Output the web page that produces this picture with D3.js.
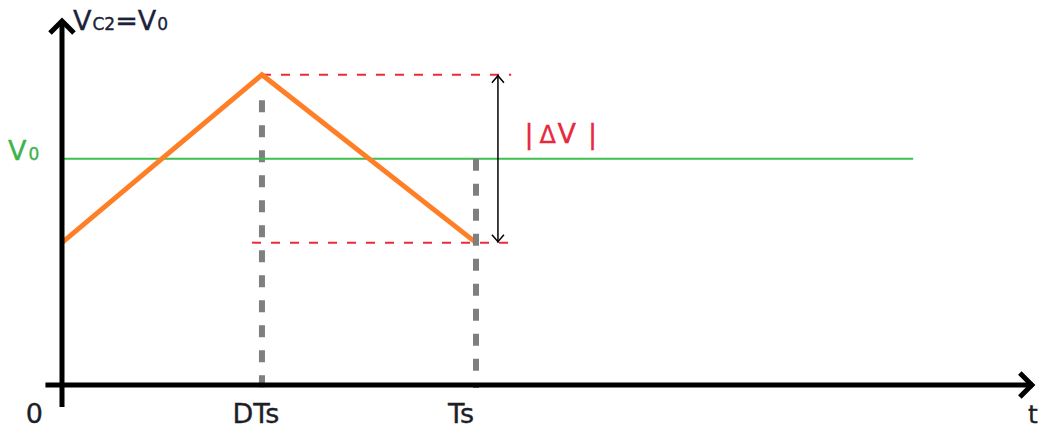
<!DOCTYPE html>
<html>
<head>
<meta charset="utf-8">
<script src="https://cdn.jsdelivr.net/npm/d3@7"></script>
<style>
  html, body { margin: 0; padding: 0; background: #fff; }
  svg { display: block; }
  text { font-family: "DejaVu Sans", Verdana, sans-serif; stroke-width: 0.35; }
</style>
</head>
<body>
<svg id="chart" width="1041" height="430"></svg>
<script>
// Capacitor C2 voltage ripple over one switching period
const duty = 0.483;                 // DTs as a fraction of Ts
const rippleTimes = [0, duty, 1];   // t / Ts
const rippleValues = [0.39, 0.85, 0.39];
const averageValue = 0.62;          // V0
const tickTimes = [0, duty, 1];
const tickLabels = ["0", "DTs", "Ts"];

const svg = d3.select("#chart");

// t / Ts -> px ; v (normalised) -> px
const x = d3.scaleLinear().domain([0, 1]).range([62, 476]);
const y = d3.scaleLinear().domain([0, 1]).range([385, 20]);

const vMin = d3.min(rippleValues), vMax = d3.max(rippleValues);

// grey dashed guide at DTs
svg.append("line")
  .attr("x1", x(duty)).attr("x2", x(duty))
  .attr("y1", y(0.78)).attr("y2", y(-0.008))
  .attr("stroke", "#7f7f7f").attr("stroke-width", 6)
  .attr("stroke-dasharray", "12,13");

// average level V0
svg.append("line")
  .attr("x1", x(0)).attr("x2", x(2.056))
  .attr("y1", y(averageValue)).attr("y2", y(averageValue))
  .attr("stroke", "#3cbf4c").attr("stroke-width", 2);

// red dashed extents of the ripple
const extents = [
  { v: vMax, t0: duty, t1: 1.085 },
  { v: vMin, t0: 0.459, t1: 1.085 }
];
svg.selectAll("line.extent").data(extents).join("line")
  .attr("class", "extent")
  .attr("x1", d => x(d.t0)).attr("x2", d => x(d.t1))
  .attr("y1", d => y(d.v)).attr("y2", d => y(d.v))
  .attr("stroke", "#ec2a3a").attr("stroke-width", 2)
  .attr("stroke-dasharray", "9,10");

// ripple waveform
const line = d3.line().x((d, i) => x(rippleTimes[i])).y(d => y(d));
svg.append("path")
  .datum(rippleValues)
  .attr("d", line)
  .attr("fill", "none")
  .attr("stroke", "#ff7f27")
  .attr("stroke-width", 5)
  .attr("stroke-linejoin", "miter");

// grey dashed guide at Ts, over the end of the falling edge
svg.append("line")
  .attr("x1", x(1)).attr("x2", x(1))
  .attr("y1", y(averageValue)).attr("y2", y(-0.008))
  .attr("stroke", "#7f7f7f").attr("stroke-width", 6)
  .attr("stroke-dasharray", "12,13");

// double-headed |ΔV| arrow
const ax = x(1.053);
const yTop = y(vMax), yBot = y(vMin);
svg.append("line")
  .attr("x1", ax).attr("x2", ax).attr("y1", yTop).attr("y2", yBot)
  .attr("stroke", "#000").attr("stroke-width", 1.5);
svg.append("path")
  .attr("d", `M${ax - 6},${yTop + 8}L${ax},${yTop + 1}L${ax + 6},${yTop + 8}` +
             `M${ax - 6},${yBot - 8}L${ax},${yBot - 1}L${ax + 6},${yBot - 8}`)
  .attr("fill", "none").attr("stroke", "#000").attr("stroke-width", 1.5);

// axes with open arrowheads
const axisColor = "#000";
svg.append("line")
  .attr("x1", x(0)).attr("x2", x(0)).attr("y1", y(-0.06)).attr("y2", y(1) + 1)
  .attr("stroke", axisColor).attr("stroke-width", 5);
svg.append("line")
  .attr("x1", x(-0.04)).attr("x2", x(2.345)).attr("y1", y(0)).attr("y2", y(0))
  .attr("stroke", axisColor).attr("stroke-width", 5);
svg.append("path")
  .attr("d", `M${x(0) - 12},${y(1) + 13}L${x(0)},${y(1) + 1}L${x(0) + 12},${y(1) + 13}`)
  .attr("fill", "none").attr("stroke", axisColor).attr("stroke-width", 5);
svg.append("path")
  .attr("d", `M${x(2.345) - 13},${y(0) - 12}L${x(2.345) - 1},${y(0)}L${x(2.345) - 13},${y(0) + 12}`)
  .attr("fill", "none").attr("stroke", axisColor).attr("stroke-width", 5);

// time tick labels
const labelOffsets = [-19, -6, -15];
const labelAnchors = ["end", "middle", "middle"];
svg.selectAll("text.tick").data(tickLabels).join("text")
  .attr("class", "tick")
  .attr("x", (d, i) => x(tickTimes[i]) + labelOffsets[i])
  .attr("y", 423)
  .attr("text-anchor", (d, i) => labelAnchors[i])
  .attr("font-size", 27)
  .attr("fill", "#1e1e28").attr("stroke", "#1e1e28")
  .text(d => d);

svg.append("text")
  .attr("x", 1028).attr("y", 423)
  .attr("font-size", 25)
  .attr("fill", "#1e1e28").attr("stroke", "#1e1e28")
  .text("t");

// y-axis title  V_C2 = V_0
const title = svg.append("text")
  .attr("x", 73).attr("y", 30)
  .attr("fill", "#1c2238").attr("stroke", "#1c2238");
title.append("tspan").attr("font-size", 27).text("V");
title.append("tspan").attr("font-size", 17).attr("dx", 1).text("C2");
title.append("tspan").attr("font-size", 27).text("=V");
title.append("tspan").attr("font-size", 17).attr("dx", 1).text("0");

// V0 label on the average level
const v0 = svg.append("text")
  .attr("x", 8).attr("y", y(averageValue) + 1)
  .attr("fill", "#3cb44a").attr("stroke", "#3cb44a");
v0.append("tspan").attr("font-size", 27).text("V");
v0.append("tspan").attr("font-size", 17).attr("dx", 2).text("0");

// ripple amplitude label
const dv = svg.append("text")
  .attr("x", 524.5).attr("y", 143)
  .attr("fill", "#e8283c").attr("stroke", "#e8283c");
dv.append("tspan").attr("font-size", 27).text("|");
dv.append("tspan").attr("font-size", 24).attr("dx", 6).text("Δ");
dv.append("tspan").attr("font-size", 27).attr("dx", 1.5).text("V");
dv.append("tspan").attr("font-size", 27).attr("dx", 12).text("|");
</script>
</body>
</html>
